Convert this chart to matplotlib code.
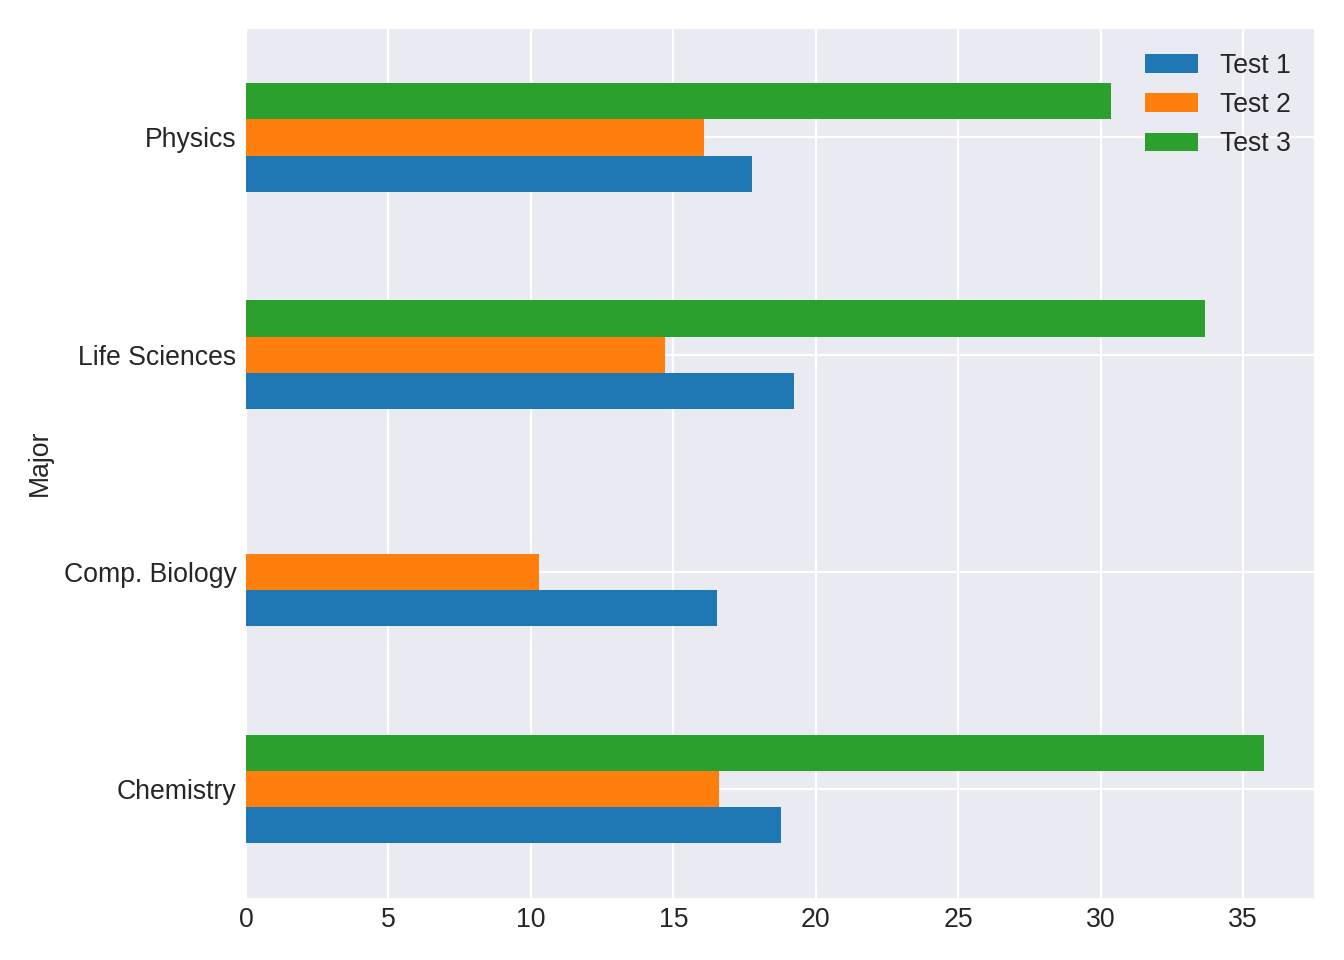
import matplotlib
matplotlib.use("Agg")
import matplotlib.pyplot as plt
import numpy as np

majors = ["Chemistry", "Comp. Biology", "Life Sciences", "Physics"]
test1 = [18.78, 16.53, 19.24, 17.76]
test2 = [16.60, 10.29, 14.71, 16.08]
test3 = [35.74, np.nan, 33.67, 30.37]
series = [("Test 1", test1, "#1f77b4"), ("Test 2", test2, "#ff7f0e"), ("Test 3", test3, "#2ca02c")]

plt.style.use("seaborn-v0_8-darkgrid")
plt.rcParams["font.family"] = ["Liberation Sans", "DejaVu Sans"]

fig, ax = plt.subplots(figsize=(7, 5), dpi=192)
fig.subplots_adjust(left=0.183, right=0.978, top=0.970, bottom=0.065)

y = np.arange(len(majors))
w = 0.5 / 3
for i, (name, vals, col) in enumerate(series):
    ax.barh(y + (i - 1) * w, vals, height=w, color=col, label=name)

ax.set_yticks(y)
ax.set_yticklabels(majors)
ax.set_ylim(-0.5, len(majors) - 0.5)
ax.set_xlim(0, 37.5)
ax.set_ylabel("Major")
ax.legend(loc="upper right")

fig.savefig("out.png", dpi=192)
